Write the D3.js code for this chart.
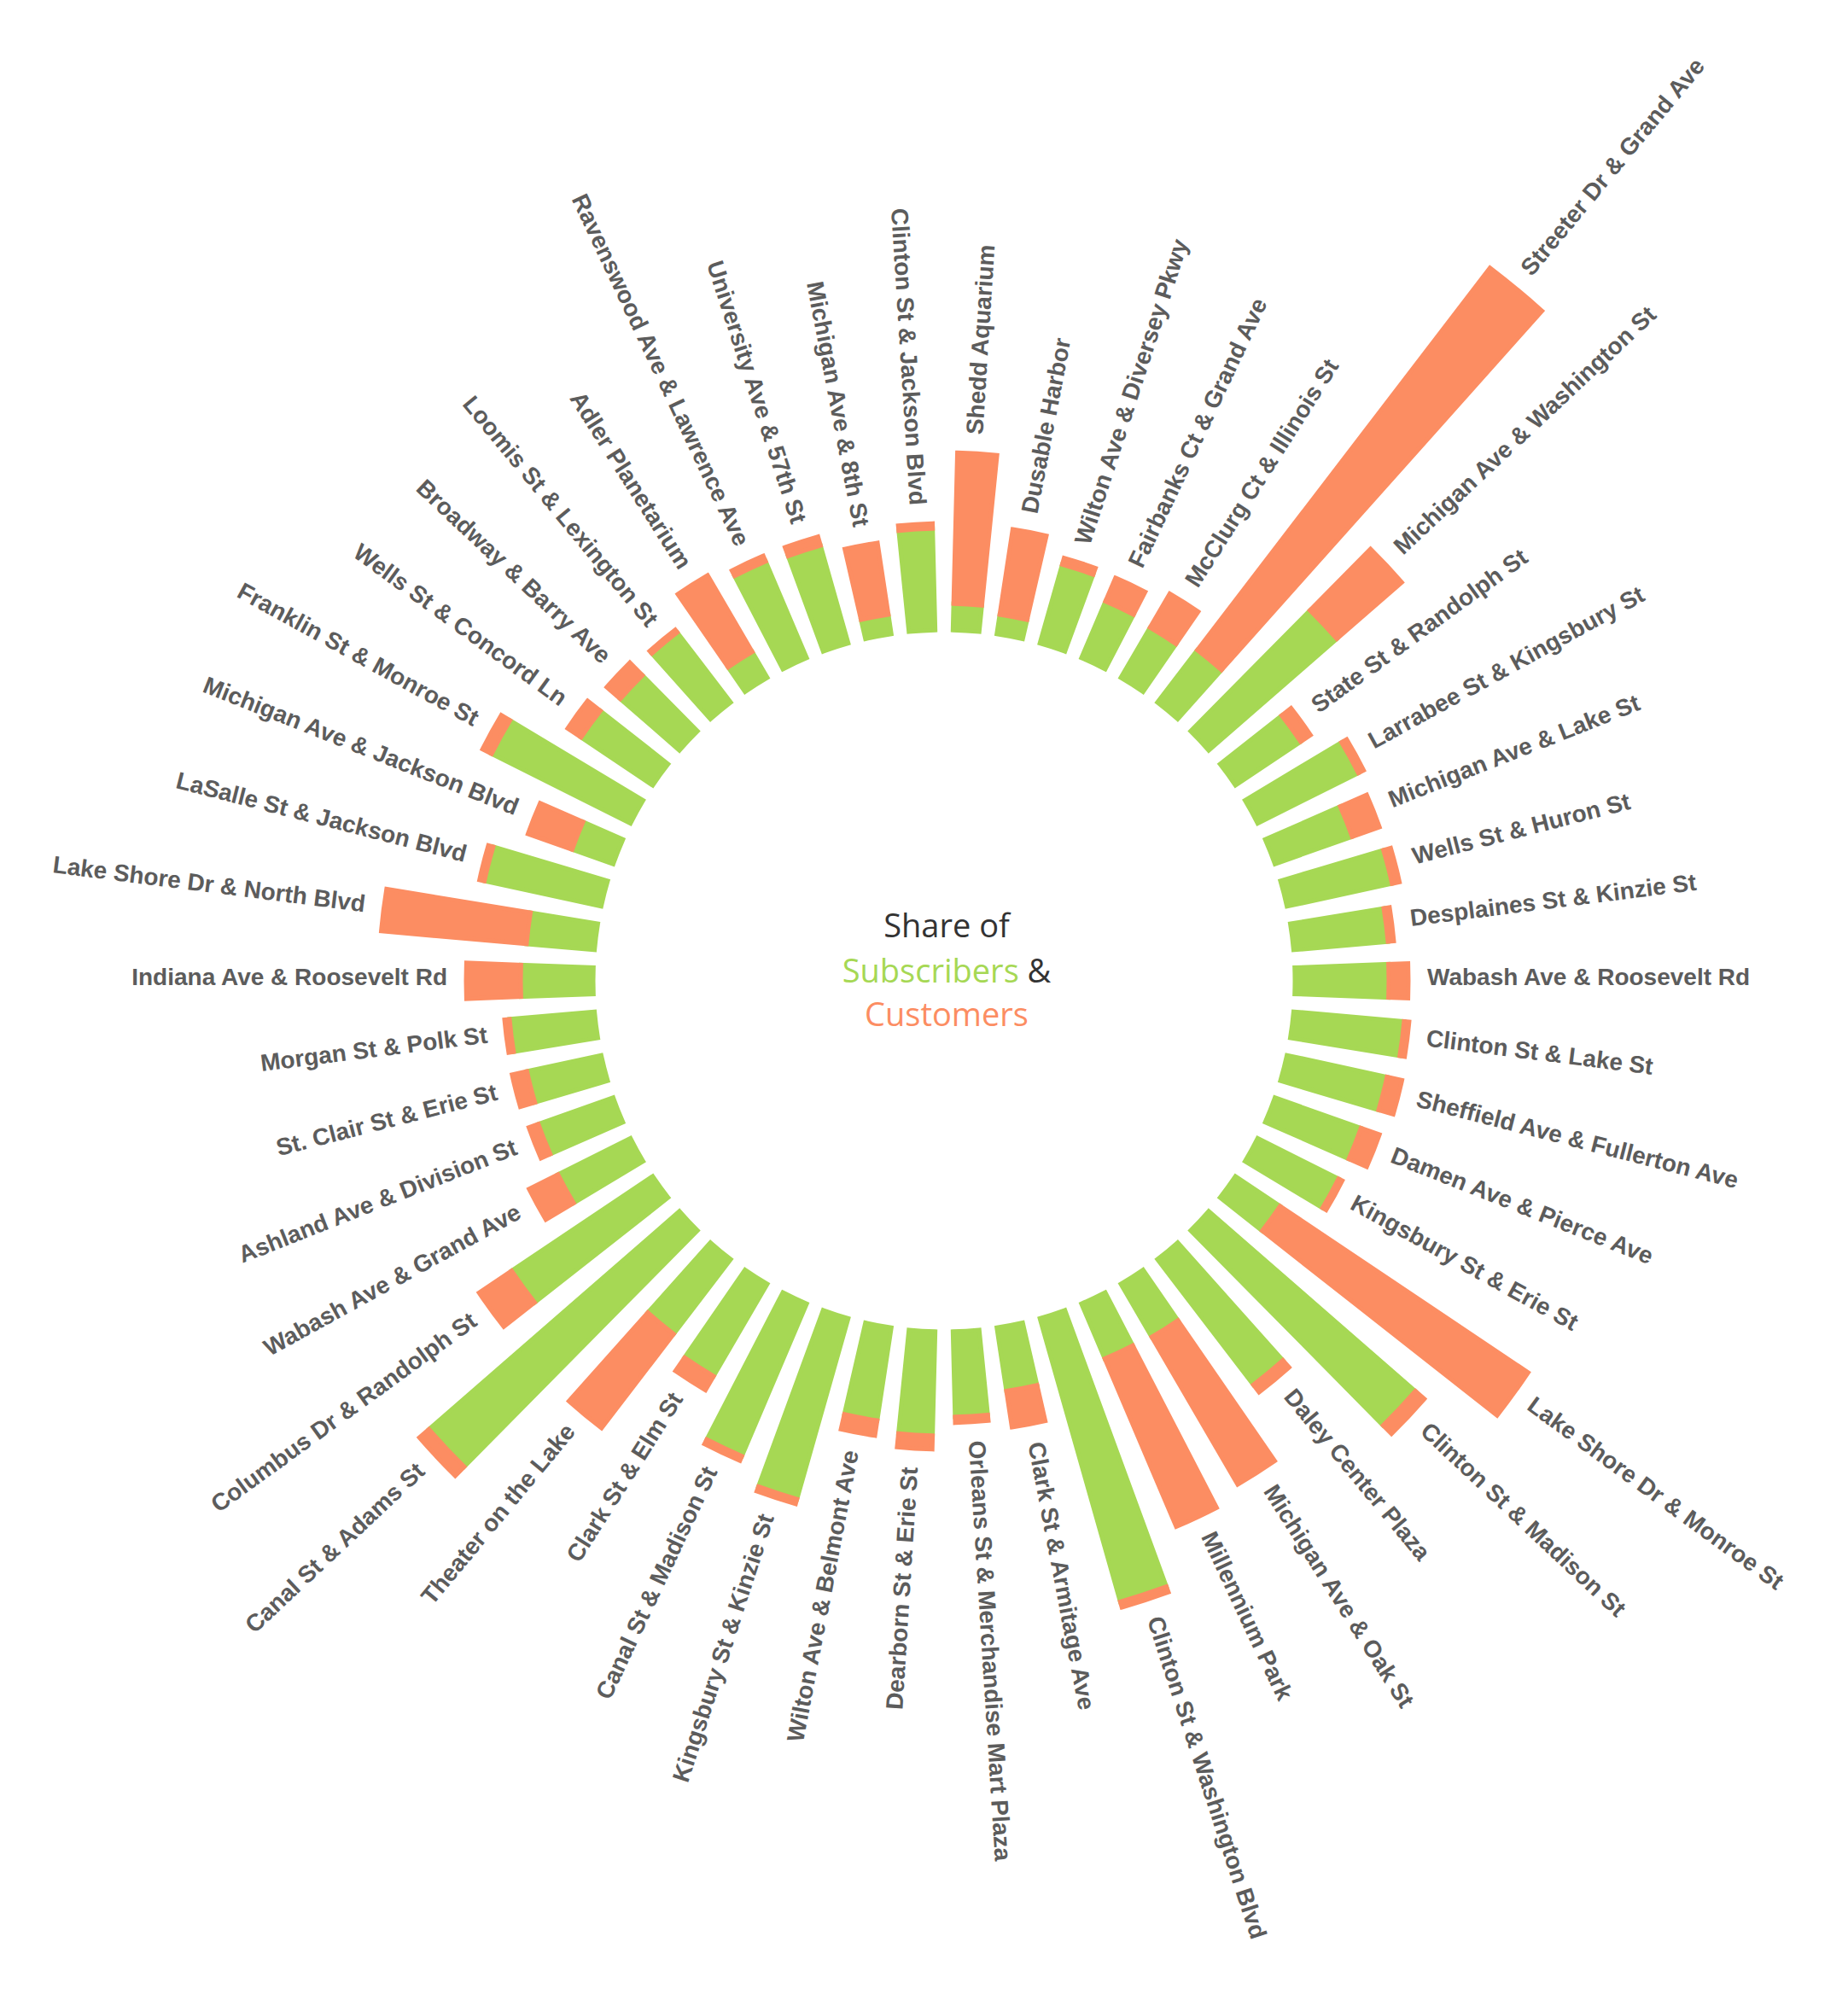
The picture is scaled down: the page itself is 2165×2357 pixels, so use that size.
<!DOCTYPE html>
<html>
<head>
<meta charset="utf-8">
<script src="https://cdn.jsdelivr.net/npm/d3@7"></script>
<style>
  html, body { margin: 0; padding: 0; background: #ffffff; }
  svg { display: block; }
</style>
</head>
<body>
<svg id="chart"></svg>
<script>
// ---- DATA (clockwise from 12 o'clock) ----
const stations = [
  "Shedd Aquarium", "Dusable Harbor", "Wilton Ave & Diversey Pkwy", "Fairbanks Ct & Grand Ave",
  "McClurg Ct & Illinois St", "Streeter Dr & Grand Ave", "Michigan Ave & Washington St",
  "State St & Randolph St", "Larrabee St & Kingsbury St", "Michigan Ave & Lake St",
  "Wells St & Huron St", "Desplaines St & Kinzie St", "Wabash Ave & Roosevelt Rd",
  "Clinton St & Lake St", "Sheffield Ave & Fullerton Ave", "Damen Ave & Pierce Ave",
  "Kingsbury St & Erie St", "Lake Shore Dr & Monroe St", "Clinton St & Madison St",
  "Daley Center Plaza", "Michigan Ave & Oak St", "Millennium Park",
  "Clinton St & Washington Blvd", "Clark St & Armitage Ave", "Orleans St & Merchandise Mart Plaza",
  "Dearborn St & Erie St", "Wilton Ave & Belmont Ave", "Kingsbury St & Kinzie St",
  "Canal St & Madison St", "Clark St & Elm St", "Theater on the Lake", "Canal St & Adams St",
  "Columbus Dr & Randolph St", "Wabash Ave & Grand Ave", "Ashland Ave & Division St",
  "St. Clair St & Erie St", "Morgan St & Polk St", "Indiana Ave & Roosevelt Rd",
  "Lake Shore Dr & North Blvd", "LaSalle St & Jackson Blvd", "Michigan Ave & Jackson Blvd",
  "Franklin St & Monroe St", "Wells St & Concord Ln", "Broadway & Barry Ave",
  "Loomis St & Lexington St", "Adler Planetarium", "Ravenswood Ave & Lawrence Ave",
  "University Ave & 57th St", "Michigan Ave & 8th St", "Clinton St & Jackson Blvd"
];
const subscribers = [
  3100, 2300, 9600, 7200, 6800, 7700, 19900, 9200, 13200, 9600,
  12600, 11100, 11000, 13000, 12000, 10700, 10600, 6300, 32100, 18500,
  7200, 7000, 34500, 7500, 10000, 12200, 11000, 22000, 19400, 12500,
  11000, 38900, 19900, 9500, 9300, 8900, 10000, 8500, 8000, 14000,
  5100, 18200, 10100, 9200, 10300, 3500, 12300, 11900, 2300, 11900
];
const customers = [
  17700, 10100, 800, 3000, 4600, 56400, 10100, 1400, 700, 3400,
  900, 700, 2300, 600, 1800, 2300, 500, 35000, 1400, 1100,
  20000, 21400, 700, 4300, 700, 1600, 1800, 600, 600, 1900,
  13900, 1500, 4600, 3800, 1200, 1800, 600, 6400, 17100, 600,
  5500, 1200, 1900, 2100, 400, 10400, 700, 1100, 8500, 600
];
const seriesKeys = ["Subscribers", "Customers"];
const seriesColors = ["#a6d854", "#fc8d62"];
const titleLines = [
  [{ t: "Share of", c: "#333333" }],
  [{ t: "Subscribers", c: "#a6d854" }, { t: " &", c: "#333333" }],
  [{ t: "Customers", c: "#fc8d62" }]
];

// ---- LAYOUT ----
const W = 2165, H = 2357;
const cx = 1106, cy = 1149;
const innerRadius = 411;

const svg = d3.select("#chart").attr("width", W).attr("height", H)
  .attr("viewBox", [0, 0, W, H]);
svg.append("rect").attr("width", W).attr("height", H).attr("fill", "#ffffff");

const rows = stations.map((s, i) => ({ station: s, Subscribers: subscribers[i], Customers: customers[i] }));
const series = d3.stack().keys(seriesKeys)(rows);

const x = d3.scaleBand().domain(stations).range([0, 2 * Math.PI])
  .paddingInner(0.4).paddingOuter(0.2).align(0.5);
const maxTotal = d3.max(rows, d => d.Subscribers + d.Customers);
const y = d3.scaleLinear().domain([0, maxTotal]).range([innerRadius, innerRadius + maxTotal / 100]);
const color = d3.scaleOrdinal().domain(seriesKeys).range(seriesColors);

const arc = d3.arc()
  .innerRadius(d => y(d[0]))
  .outerRadius(d => y(d[1]))
  .startAngle(d => x(d.data.station))
  .endAngle(d => x(d.data.station) + x.bandwidth());

const g = svg.append("g").attr("transform", `translate(${cx},${cy})`);

g.append("g").selectAll("g")
  .data(series)
  .join("g")
    .attr("fill", d => color(d.key))
    .attr("stroke", d => color(d.key))
    .attr("stroke-width", 5)
    .attr("stroke-linejoin", "miter")
  .selectAll("path")
  .data(d => d)
  .join("path")
    .attr("d", arc);

// ---- LABELS ----
const label = g.append("g")
  .attr("font-family", "'Liberation Sans', Arial, Helvetica, sans-serif")
  .attr("font-weight", "bold")
  .attr("font-size", 28)
  .attr("fill", "#5c5c5c")
  .selectAll("g")
  .data(rows)
  .join("g")
    .attr("transform", d => {
      const a = (x(d.station) + x.bandwidth() / 2) * 180 / Math.PI;
      const r = y(d.Subscribers + d.Customers) + 22;
      return `rotate(${a - 90}) translate(${r},0)` + (a >= 180 ? " rotate(180)" : "");
    });

label.append("text")
  .attr("text-anchor", d => ((x(d.station) + x.bandwidth() / 2) * 180 / Math.PI) >= 180 ? "end" : "start")
  .attr("dy", "0.18em")
  .text(d => d.station);

// ---- CENTRE TITLE ----
const title = svg.append("g")
  .attr("font-family", "'Open Sans', 'Noto Sans', sans-serif")
  .attr("font-size", 38)
  .attr("text-anchor", "middle");
const baselines = [1098, 1151, 1202];
titleLines.forEach((line, i) => {
  const t = title.append("text").attr("x", 1109).attr("y", baselines[i]);
  line.forEach(seg => t.append("tspan").attr("fill", seg.c).text(seg.t));
});
</script>
</body>
</html>
